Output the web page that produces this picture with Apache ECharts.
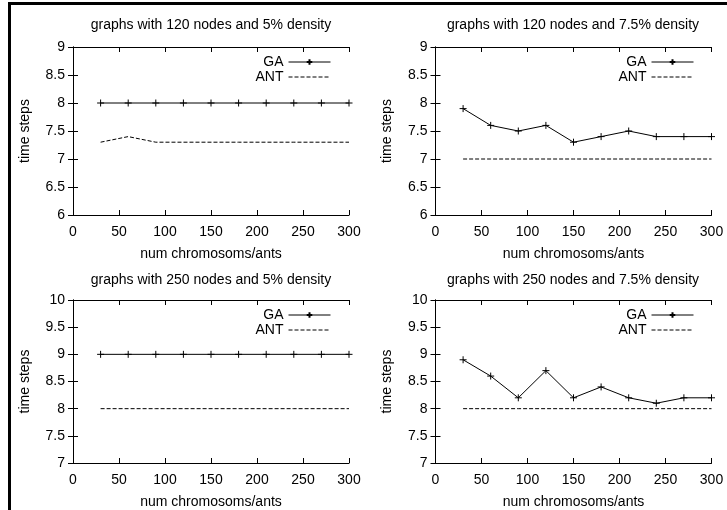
<!DOCTYPE html>
<html><head><meta charset="utf-8">
<script src="https://cdn.jsdelivr.net/npm/echarts@6/dist/echarts.min.js"></script>
<style>html,body{margin:0;padding:0;background:#fff}#c{width:727px;height:510px}</style>
</head><body><div id="c"></div>
<script>
var xValues = [30, 60, 90, 120, 150, 180, 210, 240, 270, 300];
var titles = [
  'graphs with 120 nodes and 5% density',
  'graphs with 120 nodes and 7.5% density',
  'graphs with 250 nodes and 5% density',
  'graphs with 250 nodes and 7.5% density'
];
var ga120_5  = [8, 8, 8, 8, 8, 8, 8, 8, 8, 8];
var ant120_5 = [7.3, 7.4, 7.3, 7.3, 7.3, 7.3, 7.3, 7.3, 7.3, 7.3];
var ga120_75  = [7.9, 7.6, 7.5, 7.6, 7.3, 7.4, 7.5, 7.4, 7.4, 7.4];
var ant120_75 = [7, 7, 7, 7, 7, 7, 7, 7, 7, 7];
var ga250_5  = [9, 9, 9, 9, 9, 9, 9, 9, 9, 9];
var ant250_5 = [8, 8, 8, 8, 8, 8, 8, 8, 8, 8];
var ga250_75  = [8.9, 8.6, 8.2, 8.7, 8.2, 8.4, 8.2, 8.1, 8.2, 8.2];
var ant250_75 = [8, 8, 8, 8, 8, 8, 8, 8, 8, 8];
var yRanges = [[6, 9], [6, 9], [7, 10], [7, 10]];
var xRange = [0, 300];
var xTickStep = 50;
var yTickStep = 0.5;

var gaSets = [ga120_5, ga120_75, ga250_5, ga250_75];
var antSets = [ant120_5, ant120_75, ant250_5, ant250_75];

function pairs(ys) { return xValues.map(function (x, i) { return [x, ys[i]]; }); }

var FONT = 'Liberation Sans, Arial, sans-serif';
var layout = [
  {left: 73, top: 47, width: 276, height: 168, cx: 211, ty: 18, legendRight: 396},
  {left: 435.5, top: 47, width: 276, height: 168, cx: 573, ty: 18, legendRight: 33},
  {left: 73, top: 300, width: 276, height: 168, cx: 211, ty: 273, legendRight: 396},
  {left: 435.5, top: 300, width: 276, height: 168, cx: 573, ty: 273, legendRight: 33}
];
var plusPath = 'path://M0,5L10,5M5,0L5,10';
var thinPath = 'path://M0,0L10,0L10,10L0,10Z';
var grids = [], xAxes = [], yAxes = [], series = [], legends = [];
var axisLine = {show: true, lineStyle: {color: '#000', width: 1}};
var tickIn = {show: true, inside: true, length: 5, lineStyle: {color: '#000', width: 1}};
layout.forEach(function (L, g) {
  grids.push({left: L.left, top: L.top, width: L.width, height: L.height, containLabel: false});
  xAxes.push({type: 'value', gridIndex: g, min: xRange[0], max: xRange[1], interval: xTickStep, position: 'bottom',
    name: 'num chromosoms/ants', nameLocation: 'middle', nameGap: 32,
    nameTextStyle: {color: '#000', fontSize: 14, fontFamily: FONT},
    axisLine: axisLine, axisTick: tickIn, splitLine: {show: false},
    axisLabel: {color: '#000', fontSize: 14, fontFamily: FONT, margin: 10}});
  xAxes.push({type: 'value', gridIndex: g, min: xRange[0], max: xRange[1], interval: xTickStep, position: 'top',
    axisLine: axisLine, axisTick: tickIn, splitLine: {show: false}, axisLabel: {show: false}});
  yAxes.push({type: 'value', gridIndex: g, min: yRanges[g][0], max: yRanges[g][1], interval: yTickStep, position: 'left',
    name: 'time steps', nameLocation: 'middle', nameGap: 41,
    nameTextStyle: {color: '#000', fontSize: 14, fontFamily: FONT},
    axisLine: axisLine, axisTick: tickIn, splitLine: {show: false},
    axisLabel: {color: '#000', fontSize: 14, fontFamily: FONT, margin: 8}});
  yAxes.push({type: 'value', gridIndex: g, min: yRanges[g][0], max: yRanges[g][1], interval: yTickStep, position: 'right',
    axisLine: axisLine, axisTick: tickIn, splitLine: {show: false}, axisLabel: {show: false}});
  series.push({name: 'GA', type: 'line', xAxisIndex: 2 * g, yAxisIndex: 2 * g, data: pairs(gaSets[g]),
    symbol: plusPath, symbolSize: 7, showSymbol: true, animation: false,
    lineStyle: {color: '#000', width: 1},
    itemStyle: {color: '#000', borderColor: '#000', borderWidth: 1}});
  series.push({name: 'ANT', type: 'line', xAxisIndex: 2 * g, yAxisIndex: 2 * g, data: pairs(antSets[g]),
    symbol: thinPath, showSymbol: false, animation: false,
    lineStyle: {color: '#000', width: 1, type: [4, 2]},
    itemStyle: {color: 'rgba(0,0,0,0)', borderColor: 'rgba(0,0,0,0)', borderWidth: 0}});
  legends.push({data: ['GA'], right: L.legendRight, top: L.top + 8, align: 'right', orient: 'vertical',
    itemWidth: 42, itemHeight: 7, itemGap: 3, padding: 0, selectedMode: false,
    lineStyle: {width: 1},
    textStyle: {color: '#000', fontSize: 14, fontFamily: FONT}});
  legends.push({data: ['ANT'], right: L.legendRight, top: L.top + 23, align: 'right', orient: 'vertical',
    itemWidth: 42, itemHeight: 7, itemGap: 3, padding: 0, selectedMode: false,
    lineStyle: {width: 1},
    textStyle: {color: '#000', fontSize: 14, fontFamily: FONT}});
});
var titleComps = layout.map(function (L, g) {
  return {text: titles[g], left: L.cx, top: L.ty, textAlign: 'center', padding: 0,
    textStyle: {color: '#000', fontSize: 14, fontWeight: 'normal', fontFamily: FONT}};
});
var chart = echarts.init(document.getElementById('c'), null, {renderer: 'canvas'});
chart.setOption({
  animation: false,
  backgroundColor: '#fff',
  title: titleComps,
  grid: grids, xAxis: xAxes, yAxis: yAxes, series: series, legend: legends,
  graphic: [
    {type: 'rect', shape: {x: 8, y: 2, width: 719, height: 3}, style: {fill: '#000'}},
    {type: 'rect', shape: {x: 8, y: 2, width: 3, height: 508}, style: {fill: '#000'}}
  ]
});
</script></body></html>
